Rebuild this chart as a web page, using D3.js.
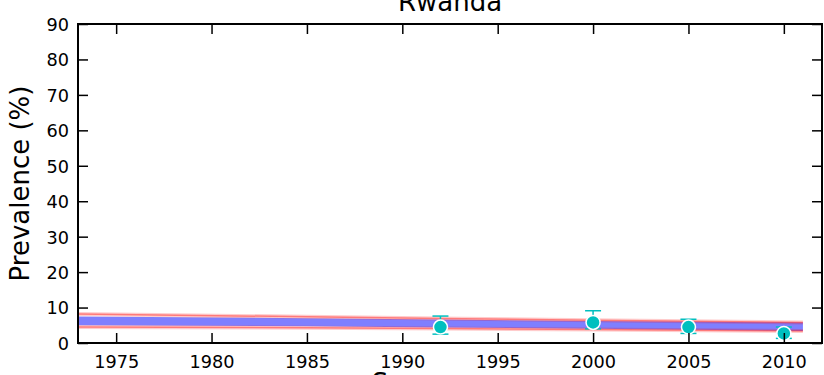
<!DOCTYPE html>
<html>
<head>
<meta charset="utf-8">
<script src="https://cdn.jsdelivr.net/npm/d3@7"></script>
<style>
  html, body { margin: 0; padding: 0; background: #fff; }
  svg { display: block; font-family: "DejaVu Sans", sans-serif; }
</style>
</head>
<body>
<svg id="chart" width="824" height="375"></svg>
<script>
// ---- data ----
const title = "Rwanda";
const yLabel = "Prevalence (%)";
const xLabel = "Survey year";

const fitYears = [1973, 1985, 1992, 2000, 2011];
const bandHi   = [7.5, 7.0, 6.6, 6.2, 5.8];
const bandLo   = [5.0, 4.7, 4.4, 4.0, 3.4];
const redHi    = [8.2, 7.4, 6.9, 6.4, 5.8];
const redLo    = [4.5, 4.3, 4.1, 3.8, 3.4];

const obsYears = [1992, 2000, 2005, 2010];
const obsValue = [4.5, 5.8, 4.5, 2.7];
const obsUpper = [7.6, 9.1, 6.7, 4.5];
const obsLower = [2.5, 4.0, 2.7, 1.3];

const xTicks = [1975, 1980, 1985, 1990, 1995, 2000, 2005, 2010];
const yTicks = [0, 10, 20, 30, 40, 50, 60, 70, 80, 90];

// ---- layout ----
const svg = d3.select("#chart");
const L = 78, R = 822, T = 24, B = 343;

const x = d3.scaleLinear().domain([1973, 2012]).range([L, R]);
const y = d3.scaleLinear().domain([0, 90]).range([B, T]);

const fit = fitYears.map((yr, i) => ({yr, hi: bandHi[i], lo: bandLo[i], rh: redHi[i], rl: redLo[i]}));

// blue band
svg.append("path")
  .datum(fit)
  .attr("fill", "#7f7fff")
  .attr("d", d3.area().x(d => x(d.yr)).y0(d => y(d.lo)).y1(d => y(d.hi)));

// red lines (halo + core)
["rh", "rl"].forEach(k => {
  const line = d3.line().x(d => x(d.yr)).y(d => y(d[k]));
  svg.append("path").datum(fit)
    .attr("fill", "none").attr("stroke", "#ff0000").attr("stroke-opacity", 0.2)
    .attr("stroke-width", 4).attr("d", line);
  svg.append("path").datum(fit)
    .attr("fill", "none").attr("stroke", "#ff0000").attr("stroke-opacity", 0.4)
    .attr("stroke-width", 1.5).attr("d", line);
});

// error bars
const obs = obsYears.map((yr, i) => ({yr, v: obsValue[i], hi: obsUpper[i], lo: obsLower[i]}));
const eb = svg.append("g").attr("stroke", "#00bfbf").attr("stroke-width", 1.5);
obs.forEach(d => {
  eb.append("line").attr("x1", x(d.yr)).attr("x2", x(d.yr)).attr("y1", y(d.lo)).attr("y2", y(d.hi));
  eb.append("line").attr("x1", x(d.yr) - 8).attr("x2", x(d.yr) + 8).attr("y1", y(d.lo)).attr("y2", y(d.lo));
  eb.append("line").attr("x1", x(d.yr) - 8).attr("x2", x(d.yr) + 8).attr("y1", y(d.hi)).attr("y2", y(d.hi));
});
svg.append("g").selectAll("circle").data(obs).join("circle")
  .attr("cx", d => x(d.yr)).attr("cy", d => y(d.v)).attr("r", 7)
  .attr("fill", "#00bfbf").attr("stroke", "#fff").attr("stroke-width", 1.5);

// axes with inward ticks
const tickLen = 10;
const axB = svg.append("g").attr("transform", `translate(0,${B})`)
  .call(d3.axisBottom(x).tickValues(xTicks).tickFormat(d3.format("d")).tickSizeInner(-tickLen).tickSizeOuter(0).tickPadding(12));
const axT = svg.append("g").attr("transform", `translate(0,${T})`)
  .call(d3.axisTop(x).tickValues(xTicks).tickFormat("").tickSizeInner(-tickLen).tickSizeOuter(0));
const axL = svg.append("g").attr("transform", `translate(${L},0)`)
  .call(d3.axisLeft(y).tickValues(yTicks).tickFormat(d3.format("d")).tickSizeInner(-tickLen).tickSizeOuter(0).tickPadding(9));
const axR = svg.append("g").attr("transform", `translate(${R},0)`)
  .call(d3.axisRight(y).tickValues(yTicks).tickFormat("").tickSizeInner(-tickLen).tickSizeOuter(0));

[axB, axT, axL, axR].forEach(g => {
  g.select(".domain").remove();
  g.selectAll(".tick line").attr("stroke", "#000").attr("stroke-width", 1.5);
  g.selectAll(".tick text").attr("fill", "#000").attr("font-size", "17.7px").attr("font-family", "DejaVu Sans");
});
axL.selectAll(".tick text").attr("dy", "0.36em");

// frame
svg.append("rect").attr("x", L).attr("y", T).attr("width", R - L).attr("height", B - T)
  .attr("fill", "none").attr("stroke", "#000").attr("stroke-width", 2);

// title and labels
svg.append("text").attr("x", (L + R) / 2).attr("y", 11).attr("text-anchor", "middle")
  .attr("font-size", "26px").text(title);
svg.append("text").attr("transform", `translate(29,${(T + B) / 2}) rotate(-90)`)
  .attr("text-anchor", "middle").attr("font-size", "26px").text(yLabel);
svg.append("text").attr("x", (L + R) / 2).attr("y", 392).attr("text-anchor", "middle")
  .attr("font-size", "26px").text(xLabel);
</script>
</body>
</html>
